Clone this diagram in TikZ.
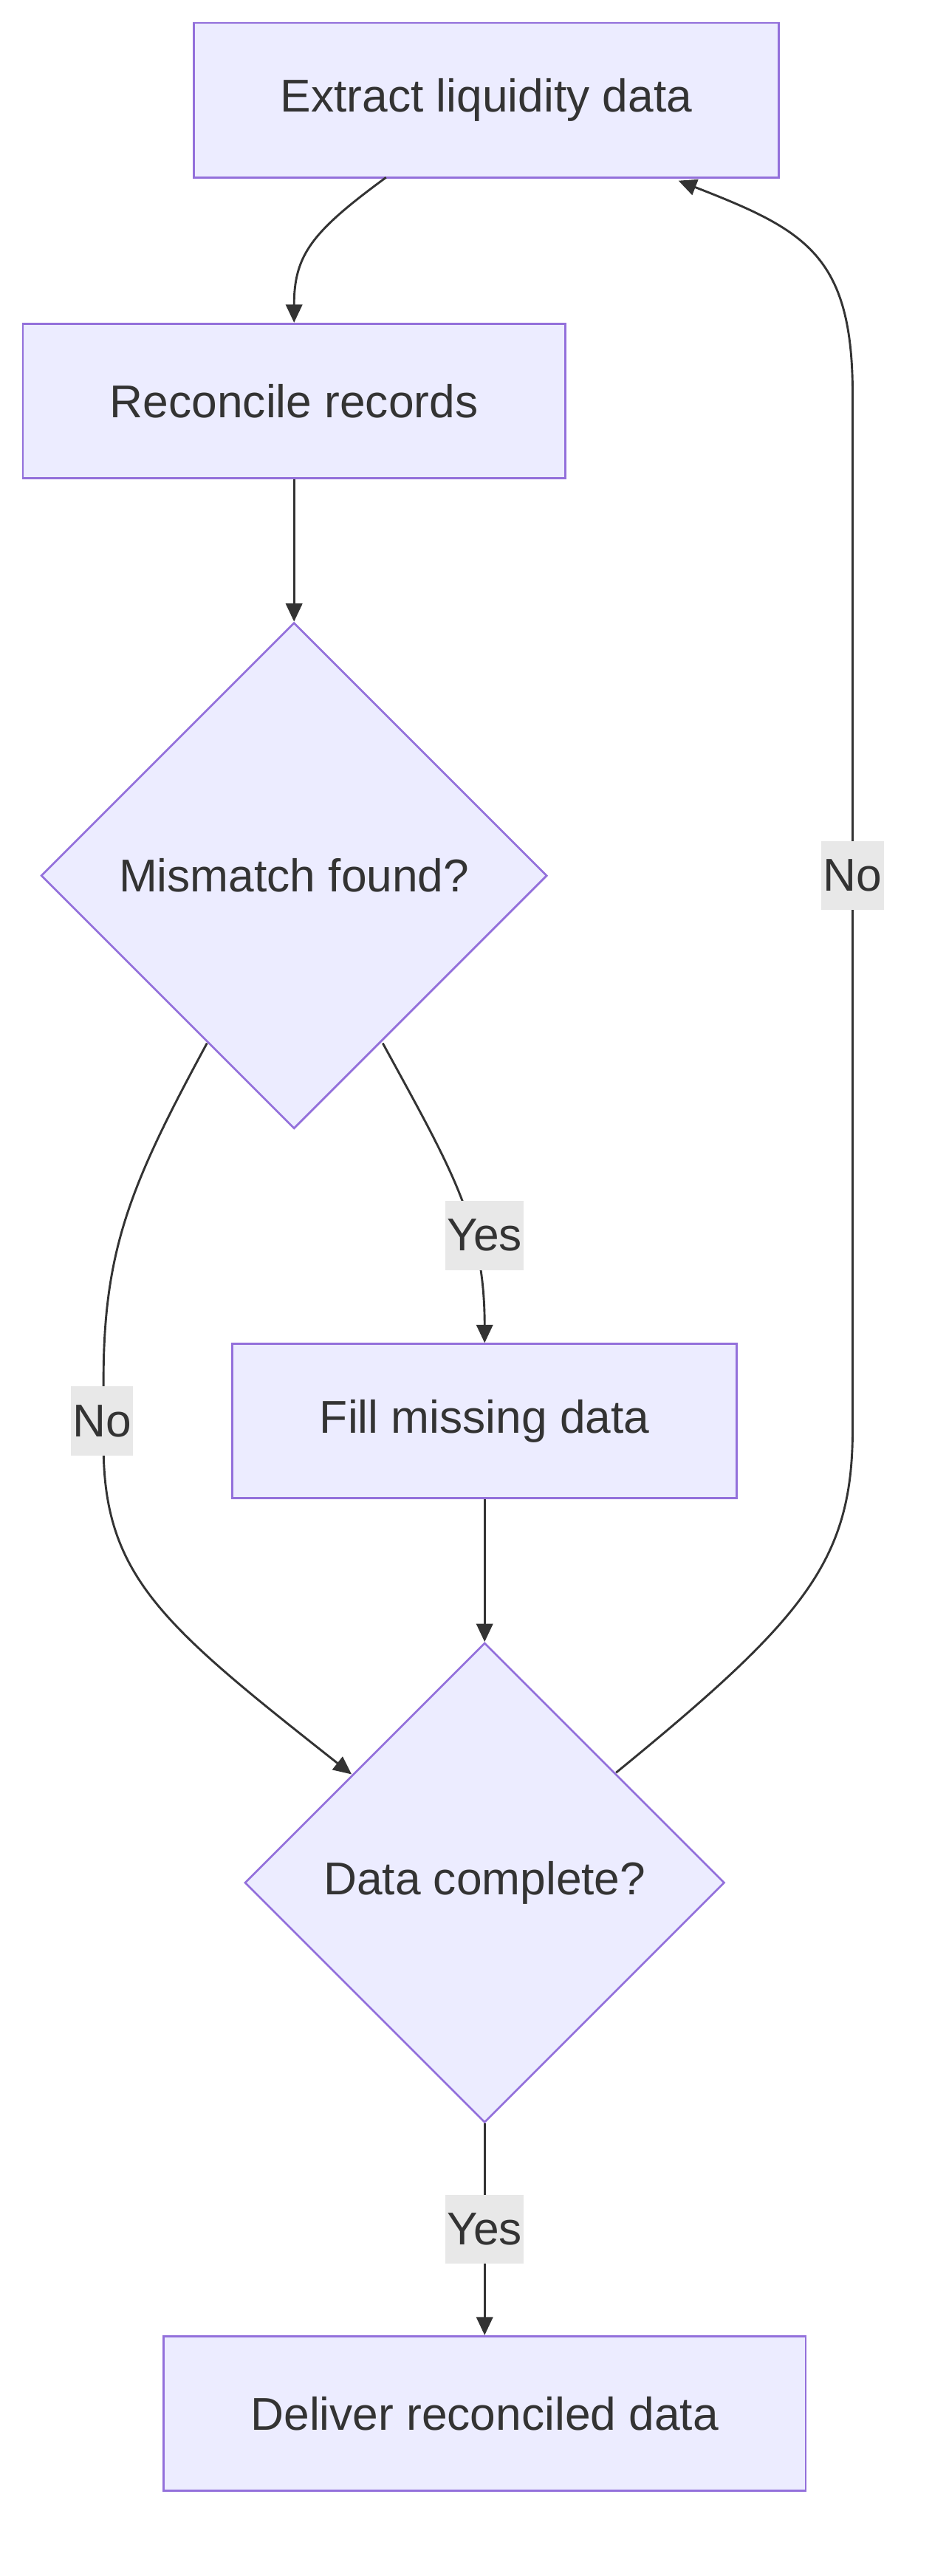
\documentclass[tikz,border=0pt]{standalone}
\usepackage{fontspec}
\setmainfont{Liberation Sans}
\usetikzlibrary{shapes.geometric,arrows.meta}
\definecolor{nfill}{HTML}{ECECFF}
\definecolor{nstroke}{HTML}{9370DB}
\definecolor{ntext}{HTML}{333333}
\definecolor{lbg}{HTML}{E8E8E8}
\begin{document}
\begin{tikzpicture}[x=1pt,y=-1pt,
  box/.style={draw=nstroke,fill=nfill,line width=1.2pt,text=ntext,font=\fontsize{28}{33}\selectfont,minimum height=94pt,inner sep=0pt},
  dia/.style={draw=nstroke,fill=nfill,line width=1.2pt,text=ntext,font=\fontsize{28}{33}\selectfont,diamond,inner sep=0pt},
  edge/.style={draw=ntext,line width=1.3pt,-{Triangle[length=11pt,width=10pt]}},
  lab/.style={fill=lbg,text=ntext,font=\fontsize{28}{33}\selectfont,inner sep=1pt,minimum height=42pt}]
\useasboundingbox (0,0) rectangle (567,1568);
\node[box,minimum width=356pt] (ext) at (296,61) {Extract liquidity data};
\node[box,minimum width=330pt] (rec) at (179,244) {Reconcile records};
\node[dia,minimum width=308pt,minimum height=308pt] (mis) at (179,533) {Mismatch found?};
\node[box,minimum width=307pt] (fill) at (295,865) {Fill missing data};
\node[dia,minimum width=292pt,minimum height=292pt] (com) at (295,1146) {Data complete?};
\node[box,minimum width=391pt] (del) at (295,1469) {Deliver reconciled data};
\coordinate (e1) at (235,108);
\coordinate (m1) at (233,635);
\coordinate (m2) at (126,635);
\coordinate (c1) at (375,1079);
\coordinate (c2) at (214,1080);
\coordinate (e2) at (413,110);
\draw[edge] (e1) .. controls (190,141) and (179,155) .. (rec.north);
\draw[edge] (rec) -- (mis);
\draw[edge] (m1) .. controls (275,712) and (295,745) .. (fill.north);
\draw[edge] (m2) .. controls (80,720) and (63,760) .. (63,840) -- (63,880) .. controls (63,960) and (100,990) .. (c2);
\draw[edge] (fill) -- (com);
\draw[edge] (c1) .. controls (490,985) and (519,950) .. (519,870) -- (519,240) .. controls (519,155) and (490,140) .. (e2);
\draw[edge] (com) -- (del);
\node[lab] (ly1) at (295,752) {Yes};
\node[lab] (ln1) at (62,865) {No};
\node[lab] (ln2) at (519,533) {No};
\node[lab] (ly2) at (295,1357) {Yes};
\end{tikzpicture}
\end{document}
